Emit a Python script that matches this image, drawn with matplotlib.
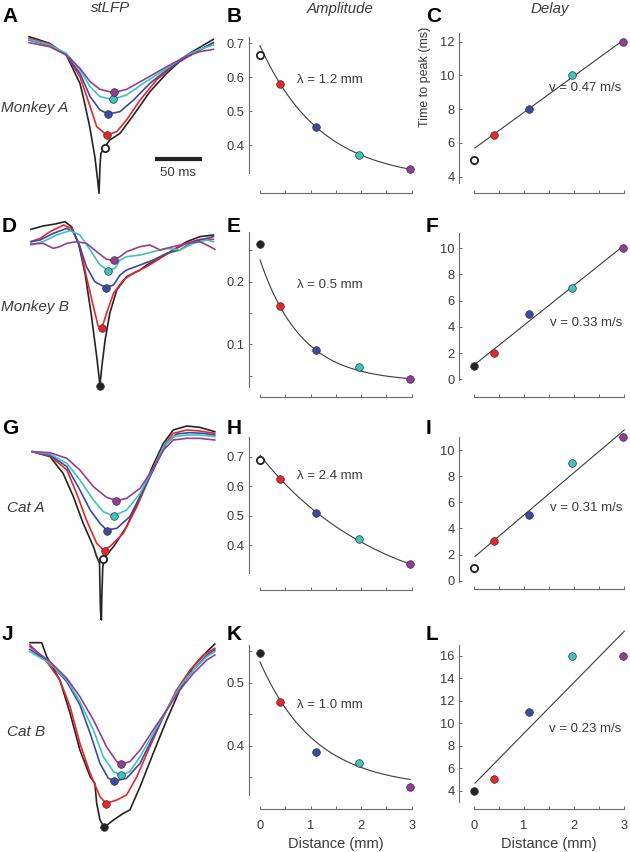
import numpy as np
import matplotlib
matplotlib.use("Agg")
import matplotlib.pyplot as plt

plt.rcParams['font.family'] = ['Liberation Sans', 'DejaVu Sans']

# ---------------- data ----------------
site_names = ['black', 'red', 'blue', 'cyan', 'magenta']
site_colors = ['#262324', '#e8262b', '#3a4ba0', '#3ec3c3', '#963c98']
distance = [0.0, 0.4, 1.1, 1.95, 2.97]          # mm

# amplitude (B, E, H, K)
amp_monkeyA = [0.665, 0.58, 0.452, 0.37, 0.329]
amp_monkeyB = [0.26, 0.161, 0.091, 0.063, 0.045]
amp_catA = [0.689, 0.625, 0.51, 0.42, 0.336]
amp_catB = [0.547, 0.47, 0.39, 0.372, 0.334]
# exponential fit curves: amplitude, length constant (mm), offset
fit_monkeyA = (0.398, 1.2, 0.295)
fit_monkeyB = (0.195, 0.82, 0.04)
fit_catA = (0.52, 2.4, 0.185)
fit_catB = (0.20, 1.1, 0.333)
lambda_labels = ['λ = 1.2 mm', 'λ = 0.5 mm', 'λ = 2.4 mm', 'λ = 1.0 mm']

# delay (C, F, I, L), ms
delay_monkeyA = [5, 6.5, 8, 10, 12]
delay_monkeyB = [1, 2, 5, 7, 10]
delay_catA = [1, 3, 5, 9, 11]
delay_catB = [4, 5, 11, 16, 16]
velocity_labels = ['v = 0.47 m/s', 'v = 0.33 m/s', 'v = 0.31 m/s', 'v = 0.23 m/s']
# whether the nearest (black) site is an open symbol (excluded from fit)
open_first = [True, False, True, False]

# stLFP traces: time (ms) and amplitude (a.u.)
A_black_t = [-76, -54, -36, -21.5, -18, -11, -5.5, -2.5, -1, 0, 1, 5.5, 10.5, 21.5, 36, 53.5, 71.5, 93, 121.5]
A_black_v = [-10, -30, -65, -150, -190, -280, -370, -440, -480, -400, -360, -340, -320, -300, -245, -175, -120, -65, -18]
A_red_t = [-76, -54, -36, -21.5, -10.5, -3.5, 7, 18, 28.5, 43, 60.5, 82, 107, 121.5]
A_red_v = [-15, -32, -65, -130, -220, -280, -305, -295, -260, -200, -140, -90, -50, -28]
A_blue_t = [-76, -54, -36, -21.5, -10.5, 0, 9, 21.5, 36, 53.5, 71.5, 93, 121.5]
A_blue_v = [-20, -37, -65, -120, -190, -230, -242, -235, -200, -150, -110, -70, -28]
A_cyan_t = [-76, -54, -36, -21.5, -10.5, 0, 13.5, 28.5, 46.5, 71.5, 93, 107, 121.5]
A_cyan_v = [-18, -35, -60, -110, -160, -190, -198, -185, -150, -105, -65, -48, -35]
A_magenta_t = [-76, -54, -36, -21.5, -10.5, 0, 14.5, 28.5, 46.5, 71.5, 93, 107, 121.5]
A_magenta_v = [-28, -40, -65, -105, -145, -168, -178, -168, -140, -100, -68, -55, -48]
A_peak_t = [5.5, 7, 9, 13.5, 15.5]
A_peak_v = [-345, -305, -242, -198, -177]

D_black_t = [-74, -61, -48, -37.5, -30.5, -23, -16, -9, -3.5, 0, 2, 5.5, 10.5, 18, 28.5, 43, 50, 60.5, 78.5, 93, 107, 121.5]
D_black_v = [12, 22, 28, 35, 20, -30, -120, -250, -370, -455, -400, -320, -240, -170, -130, -110, -95, -80, -50, -25, -10, -5]
D_red_t = [-74, -64, -53.5, -39, -30.5, -21.5, -14.5, -7, -2, 2, 7, 14.5, 25, 35.5, 50, 64.5, 78.5, 93, 107, 121.5]
D_red_v = [-25, -15, 5, 25, 15, -40, -130, -220, -278, -285, -240, -180, -140, -120, -100, -75, -50, -30, -18, -18]
D_blue_t = [-74, -64, -50, -35.5, -28.5, -21.5, -14.5, -5.5, 6.5, 14.5, 21.5, 28.5, 43, 57, 71.5, 85.5, 100, 114.5, 121.5]
D_blue_v = [-25, -20, 0, 15, 5, -40, -100, -145, -163, -155, -125, -110, -95, -80, -60, -50, -25, -15, -10]
D_cyan_t = [-74, -61, -46.5, -32, -21.5, -10.5, 0, 9, 16, 21.5, 28.5, 43, 57, 71.5, 85.5, 100, 114.5, 121.5]
D_cyan_v = [-35, -25, -5, 8, -5, -50, -95, -112, -105, -80, -70, -65, -55, -45, -50, -30, -20, -25]
D_magenta_t = [-74, -61, -50, -43, -35.5, -25, -14.5, -3.5, 7, 14.5, 21.5, 28.5, 43, 53.5, 64.5, 78.5, 93, 107, 118, 123]
D_magenta_v = [-32, -30, -45, -40, -30, -25, -30, -55, -78, -80, -70, -55, -40, -35, -50, -40, -30, -25, -40, -48]
D_peak_t = [0, 2, 6.5, 9, 14.5]
D_peak_v = [-457, -285, -163, -112, -80]

G_black_t = [-72.5, -53.5, -39.5, -28.5, -18, -7, -3.5, -0.5, 0.5, 1.5, 2, 3, 5.5, 14.5, 28.5, 43, 57, 68, 78.5, 93, 107, 123]
G_black_v = [-25, -40, -90, -160, -240, -310, -340, -360, -500, -530, -460, -370, -340, -310, -250, -160, -65, 0, 40, 52, 48, 35]
G_red_t = [-72.5, -53.5, -35.5, -25, -14.5, -3.5, 3.5, 10.5, 25, 39.5, 53.5, 68, 78.5, 93, 107, 123]
G_red_v = [-25, -38, -80, -150, -230, -300, -320, -310, -270, -190, -100, -10, 30, 40, 37, 30]
G_blue_t = [-72.5, -53.5, -35.5, -21.5, -10.5, 0, 7, 18, 32, 46.5, 60.5, 71.5, 82, 96.5, 110.5, 123]
G_blue_v = [-25, -35, -70, -140, -200, -240, -260, -255, -220, -140, -60, 0, 28, 32, 30, 25]
G_cyan_t = [-72.5, -53.5, -35.5, -21.5, -7, 3.5, 14.5, 28.5, 43, 57, 68, 78.5, 93, 107, 123]
G_cyan_v = [-25, -32, -60, -110, -170, -205, -218, -200, -150, -75, -10, 20, 25, 25, 20]
G_magenta_t = [-72.5, -53.5, -35.5, -21.5, -7, 7, 18, 28.5, 43, 57, 68, 78.5, 93, 107, 123]
G_magenta_v = [-25, -28, -45, -80, -130, -162, -172, -165, -135, -75, -20, 10, 15, 15, 10]
G_peak_t = [3, 5.5, 8, 14.5, 17]
G_peak_v = [-348, -322, -262, -218, -172]

J_black_t = [-75, -62.5, -57, -43, -32, -21.5, -10.5, -5.5, -3.5, 0, 4.5, 14.5, 25, 32, 43, 57, 71.5, 85.5, 100, 114.5, 123]
J_black_v = [32, 32, -10, -80, -180, -290, -370, -390, -450, -500, -522, -500, -480, -470, -400, -300, -200, -110, -40, 5, 28]
J_red_t = [-75, -57, -43, -32, -21.5, -10.5, 0, 6.5, 18, 28.5, 39.5, 53.5, 68, 82, 96.5, 110.5, 123]
J_red_v = [25, -25, -80, -160, -270, -360, -430, -450, -440, -425, -370, -280, -190, -110, -50, -5, 15]
J_blue_t = [-75, -53.5, -35.5, -21.5, -10.5, 0, 9, 16, 28.5, 43, 57, 71.5, 85.5, 100, 114.5, 123]
J_blue_v = [12, -30, -85, -155, -240, -330, -375, -383, -375, -330, -250, -170, -100, -50, -5, 10]
J_cyan_t = [-75, -53.5, -35.5, -21.5, -7, 3.5, 14.5, 23, 32, 43, 57, 71.5, 85.5, 100, 114.5, 123]
J_cyan_v = [5, -30, -80, -145, -230, -310, -355, -365, -355, -310, -240, -170, -100, -50, -10, 5]
J_magenta_t = [-75, -53.5, -35.5, -21.5, -7, 7, 18, 23, 32, 43, 57, 71.5, 85.5, 100, 114.5, 123]
J_magenta_v = [20, -25, -75, -130, -200, -280, -325, -332, -325, -290, -230, -170, -110, -60, -20, -5]
J_peak_t = [4.5, 6.5, 15.5, 23, 23]
J_peak_v = [-520, -452, -383, -365, -332]

row_labels = ['Monkey A', 'Monkey B', 'Cat A', 'Cat B']
panel_letters = ['A', 'B', 'C', 'D', 'E', 'F', 'G', 'H', 'I', 'J', 'K', 'L']
col_titles = ['stLFP', 'Amplitude', 'Delay']

# ---------------- figure ----------------
W, H = 630, 852
fig = plt.figure(figsize=(W / 100, H / 100), dpi=100)
TXT = '#3a3a3a'
SPINE = '#6a6a6a'
TICK_FS = 9.3
NOTE_FS = 9.5


def add_ax_px(x0, y0, x1, y1):
    return fig.add_axes([x0 / W, 1 - y1 / H, (x1 - x0) / W, (y1 - y0) / H])


def ftext(x, y, s, **kw):
    fig.text(x / W, 1 - y / H, s, **kw)


# ---- stLFP column ----
lfp_sets = [
    [(A_black_t, A_black_v), (A_red_t, A_red_v), (A_blue_t, A_blue_v), (A_cyan_t, A_cyan_v), (A_magenta_t, A_magenta_v), (A_peak_t, A_peak_v)],
    [(D_black_t, D_black_v), (D_red_t, D_red_v), (D_blue_t, D_blue_v), (D_cyan_t, D_cyan_v), (D_magenta_t, D_magenta_v), (D_peak_t, D_peak_v)],
    [(G_black_t, G_black_v), (G_red_t, G_red_v), (G_blue_t, G_blue_v), (G_cyan_t, G_cyan_v), (G_magenta_t, G_magenta_v), (G_peak_t, G_peak_v)],
    [(J_black_t, J_black_v), (J_red_t, J_red_v), (J_blue_t, J_blue_v), (J_cyan_t, J_cyan_v), (J_magenta_t, J_magenta_v), (J_peak_t, J_peak_v)],
]
row_offsets = [0, 200, 410, 620]
lfp_axes = []
for r, (off, traces) in enumerate(zip(row_offsets, lfp_sets)):
    ax = add_ax_px(0, off, 216, off + 212)
    ax.set_xlim(-107.1, 124.3)
    ax.set_ylim(-536, 100)
    ax.axis('off')
    for k in range(5):
        t, v = traces[k]
        ax.plot(t, v, color=site_colors[k], lw=1.2, solid_joinstyle='round', clip_on=False, zorder=2 + k * 0.1)
    pt, pv = traces[5]
    for k in range(5):
        if k == 0 and open_first[r]:
            ax.plot(pt[k], pv[k], 'o', ms=5.2, mfc='white', mec='#222222', mew=1.3, zorder=5, clip_on=False)
        else:
            ax.plot(pt[k], pv[k], 'o', ms=5.5, mfc=site_colors[k], mec='#333333', mew=0.5, zorder=5, clip_on=False)
    lfp_axes.append(ax)

# scale bar (50 ms) in panel A
axA = lfp_axes[0]
axA.plot([59, 109], [-377, -377], color='#222222', lw=3.0, solid_capstyle='butt', clip_on=False)
axA.text(84, -419, '50 ms', ha='center', va='center', fontsize=NOTE_FS, color=TXT)

# ---- right columns ----
def right_axes(xs, x0, x3, ytop, ybot, yaxis, cal_a, cal_b):
    sx = (x3 - x0) / 3.0
    xr = x3 + 5
    (va, pa), (vb, pb) = cal_a, cal_b
    sy = (pb - pa) / (va - vb)

    def val(p):
        return va - (p - pa) / sy
    ax = add_ax_px(xs, ytop, xr, yaxis)
    ax.set_facecolor('none')
    ax.set_xlim((xs - x0) / sx, (xr - x0) / sx)
    ax.set_ylim(val(yaxis), val(ytop))
    for s in ['top', 'right']:
        ax.spines[s].set_visible(False)
    ax.spines['left'].set_bounds(val(ybot), val(ytop))
    ax.spines['bottom'].set_bounds(0, 3)
    for s in ['left', 'bottom']:
        ax.spines[s].set_color(SPINE)
        ax.spines[s].set_linewidth(0.8)
    ax.tick_params(direction='in', length=2.2, width=0.7, color=SPINE, labelsize=TICK_FS,
                   labelcolor=TXT, pad=3)
    ax.tick_params(axis='x', pad=7.5)
    ax.set_xticks(np.arange(0, 3.01, 0.5))
    return ax


amp_specs = [
    (amp_monkeyA, fit_monkeyA, (37, 173, 193, (0.7, 43.3), (0.4, 145.0)), [0.4, 0.5, 0.6, 0.7], ['0.4', '0.5', '0.6', '0.7'], (0.73, 0.592)),
    (amp_monkeyB, fit_monkeyB, (231.7, 386.7, 396.7, (0.2, 281.7), (0.1, 344.3)), [0.05, 0.1, 0.15, 0.2, 0.25], ['', '0.1', '', '0.2', ''], (0.74, 0.195)),
    (amp_catA, fit_catA, (436.7, 573.3, 590, (0.7, 456.7), (0.4, 545.3)), [0.4, 0.5, 0.6, 0.7], ['0.4', '0.5', '0.6', '0.7'], (0.74, 0.635)),
    (amp_catB, fit_catB, (645, 795, 809.3, (0.5, 682.7), (0.4, 745.7)), [0.35, 0.4, 0.45, 0.5, 0.55], ['', '0.4', '', '0.5', ''], (0.73, 0.465)),
]
delay_specs = [
    (delay_monkeyA, (33, 182.7, 192.7, (12, 41.7), (4, 176.7)), [4, 6, 8, 10, 12], (1.5, 9.24)),
    (delay_monkeyB, (232.7, 380, 396.7, (10, 248.3), (0, 379.3)), [0, 2, 4, 6, 8, 10], (1.52, 4.27)),
    (delay_catA, (436.7, 581.7, 589.3, (10, 450), (0, 580.7)), [0, 2, 4, 6, 8, 10], (1.52, 5.54)),
    (delay_catB, (645, 801.7, 809.3, (16, 655.7), (4, 790.7)), [4, 6, 8, 10, 12, 14, 16], (1.5, 9.46)),
]

d = np.array(distance)
for r in range(4):
    amp, fit, geo, yt, ytl, lab_pos = amp_specs[r]
    ax = right_axes(249, 260, 411.7, *geo)
    ax.set_yticks(yt)
    ax.set_yticklabels(ytl)
    a, lam, c = fit
    dd = np.linspace(0, distance[-1], 120)
    ax.plot(dd, a * np.exp(-dd / lam) + c, color='#3c3c3c', lw=0.8, zorder=2)
    for k in range(5):
        if k == 0 and open_first[r]:
            ax.plot(d[k], amp[k], 'o', ms=5.2, mfc='white', mec='#222222', mew=1.3, zorder=4, clip_on=False)
        else:
            ax.plot(d[k], amp[k], 'o', ms=5.5, mfc=site_colors[k], mec='#333333', mew=0.5, zorder=4, clip_on=False)
    ax.text(lab_pos[0], lab_pos[1], lambda_labels[r], ha='left', va='center', fontsize=NOTE_FS, color=TXT)
    if r == 3:
        ax.set_xticklabels(['0', '', '1', '', '2', '', '3'])
    else:
        ax.set_xticklabels([])

    dl, geo2, yt2, lab2 = delay_specs[r]
    ax2 = right_axes(459, 474, 624.3, *geo2)
    ax2.set_yticks(yt2)
    ax2.set_yticklabels([str(v) for v in yt2])
    y = np.array(dl, dtype=float)
    use = np.ones(5, bool)
    if open_first[r]:
        use[0] = False
    slope, icpt = np.polyfit(d[use], y[use], 1)
    xx = np.array([0.02, distance[-1] + 0.03])
    ax2.plot(xx, slope * xx + icpt, color='#3c3c3c', lw=0.8, zorder=2, clip_on=False)
    for k in range(5):
        if k == 0 and open_first[r]:
            ax2.plot(d[k], y[k], 'o', ms=5.2, mfc='white', mec='#222222', mew=1.3, zorder=4, clip_on=False)
        else:
            ax2.plot(d[k], y[k], 'o', ms=5.5, mfc=site_colors[k], mec='#333333', mew=0.5, zorder=4, clip_on=False)
    ax2.text(lab2[0], lab2[1], velocity_labels[r], ha='left', va='center', fontsize=NOTE_FS, color=TXT)
    if r == 3:
        ax2.set_xticklabels(['0', '', '1', '', '2', '', '3'])
    else:
        ax2.set_xticklabels([])

# ---- texts ----
ftext(425, 77, 'Time to peak (ms)', rotation=90, ha='center', va='center', fontsize=9, color=TXT)
ftext(336, 848, 'Distance (mm)', ha='center', va='baseline', fontsize=10.5, color=TXT)
ftext(549, 848, 'Distance (mm)', ha='center', va='baseline', fontsize=10.5, color=TXT)

title_x = [111, 340, 550]
for x, s in zip(title_x, col_titles):
    ftext(x, 8.5, s, ha='center', va='center', fontsize=10.8, style='italic', color=TXT)

row_label_pos = [(1, 108), (1, 307), (7, 508), (7, 732)]
for (x, y), s in zip(row_label_pos, row_labels):
    ftext(x, y, s, ha='left', va='center', fontsize=11, style='italic', color=TXT)

letter_x = [2, 226.5, 426]
letter_base = [22, 231.5, 433.5, 640]
for i, s in enumerate(panel_letters):
    r, c = divmod(i, 3)
    ftext(letter_x[c], letter_base[r], s, ha='left', va='baseline', fontsize=15, fontweight='bold', color='black')

fig.savefig('out.png', dpi=100)
